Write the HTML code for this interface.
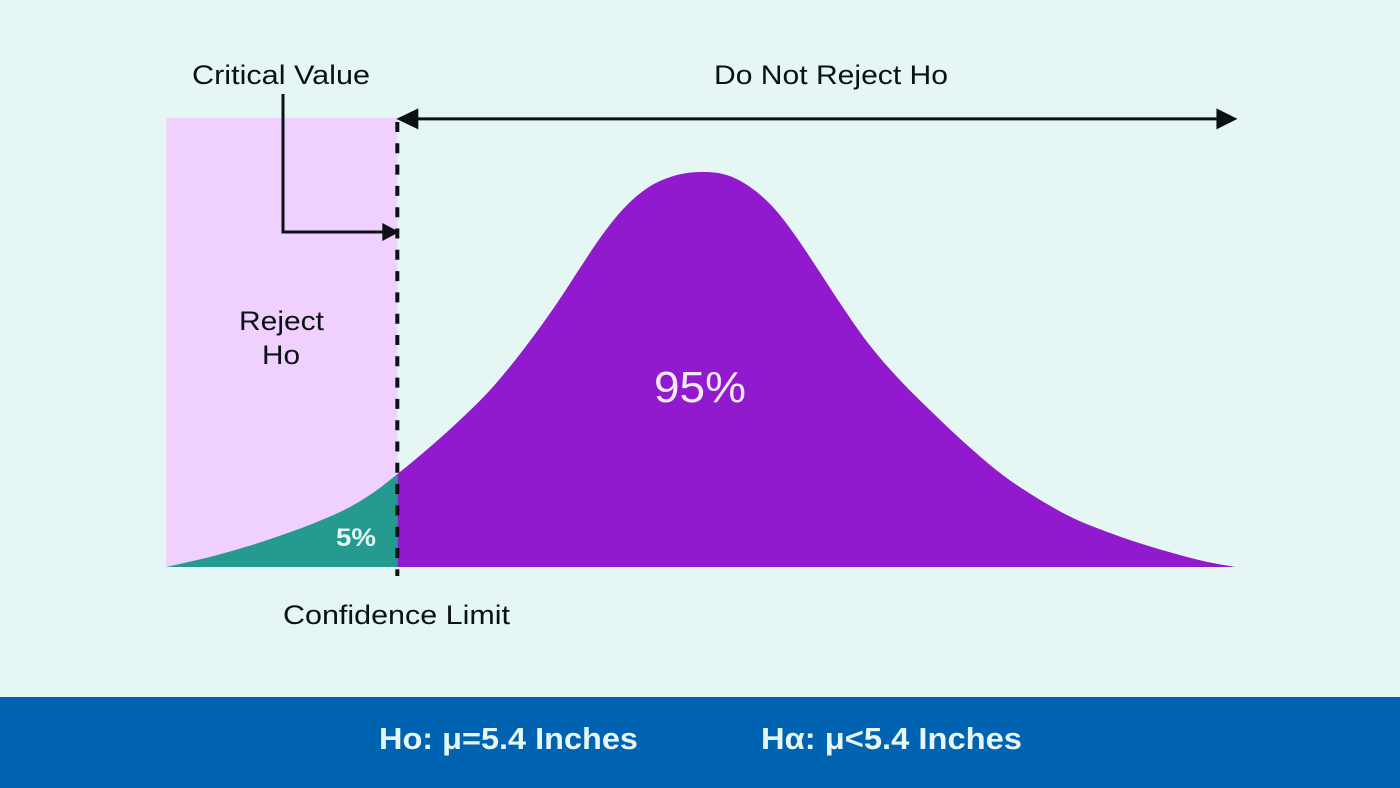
<!DOCTYPE html>
<html lang="en">
<head>
<meta charset="utf-8">
<title>One-tailed hypothesis test</title>
<style>
  html, body { margin: 0; padding: 0; width: 1400px; height: 788px; overflow: hidden; background: #E6F6F4; }
  svg { display: block; font-family: "Liberation Sans", "DejaVu Sans", sans-serif; }
  text { fill: #0c1214; }
</style>
</head>
<body>
<svg id="chart" width="1400" height="788" viewBox="0 0 1400 788">
  <rect x="0" y="0" width="1400" height="788" fill="#E6F6F4"></rect>
  <g id="marks"></g>

  <text x="192" y="84" font-size="27" textLength="178" lengthAdjust="spacingAndGlyphs">Critical Value</text>
  <text x="714" y="84" font-size="27" textLength="234" lengthAdjust="spacingAndGlyphs">Do Not Reject Ho</text>
  <text x="239" y="330" font-size="27" textLength="85" lengthAdjust="spacingAndGlyphs">Reject</text>
  <text x="262" y="364" font-size="27" textLength="38" lengthAdjust="spacingAndGlyphs">Ho</text>
  <text x="654" y="402" font-size="44" textLength="92" lengthAdjust="spacingAndGlyphs" style="fill:#F4EAFB">95%</text>
  <text x="336" y="546" font-size="25" font-weight="bold" textLength="40" lengthAdjust="spacingAndGlyphs" style="fill:#E6F6F4">5%</text>
  <text x="283" y="624" font-size="27" textLength="227" lengthAdjust="spacingAndGlyphs">Confidence Limit</text>

  <rect x="0" y="697" width="1400" height="91" fill="#0063B2"></rect>
  <text x="379" y="749" font-size="31" font-weight="bold" textLength="259" lengthAdjust="spacingAndGlyphs" style="fill:#E6F6F4">Ho: μ=5.4 Inches</text>
  <text x="761" y="749" font-size="31" font-weight="bold" textLength="261" lengthAdjust="spacingAndGlyphs" style="fill:#E6F6F4">Hα: μ&lt;5.4 Inches</text>
</svg>

<script>
// Standardised position along the axis and curve height (% of peak)
const zValues = [-2.90, -2.625, -2.446, -2.266, -2.082, -1.902, -1.755, -1.645, -1.505, -1.321, -1.141, -0.962, -0.777, -0.652, -0.543, -0.418, -0.288, -0.163, 0, 0.147, 0.272, 0.397, 0.527, 0.636, 0.761, 0.908, 1.087, 1.266, 1.451, 1.668, 1.848, 2.027, 2.212, 2.391, 2.571, 2.755, 2.91];
const densityValues = [0, 3.0, 5.4, 8.2, 11.4, 15.2, 19.5, 23.5, 28.9, 36.5, 44.8, 54.9, 66.8, 75.7, 83.3, 90.6, 95.9, 98.7, 100, 99.2, 96.2, 91.1, 83.3, 75.7, 66.8, 57.0, 47.3, 39.0, 30.9, 22.5, 17.0, 12.4, 8.9, 6.0, 3.5, 1.3, 0];
const criticalZ = -1.645;
const rejectTop = 113.7;
const curveStartZ = -2.90;
const curveEndZ = 2.91;

const X0 = 700, X_UNIT = 184;
const Y0 = 567, Y_UNIT = 3.95;
function xScale(z) { return X0 + z * X_UNIT; }
function yScale(d) { return Y0 - d * Y_UNIT; }

const NS = 'http://www.w3.org/2000/svg';
const marks = document.getElementById('marks');
function el(tag, attrs) {
  const e = document.createElementNS(NS, tag);
  for (const k in attrs) e.setAttribute(k, attrs[k]);
  return e;
}

// Cubic Hermite through the points, with tangents weighted for uneven spacing
function curvePath() {
  const pts = zValues.map((z, i) => [xScale(z), yScale(densityValues[i])]);
  const n = pts.length;
  const slopes = [];
  for (let i = 0; i < n - 1; i++) slopes.push((pts[i + 1][1] - pts[i][1]) / (pts[i + 1][0] - pts[i][0]));
  const m = [slopes[0]];
  for (let i = 1; i < n - 1; i++) {
    const h0 = pts[i][0] - pts[i - 1][0], h1 = pts[i + 1][0] - pts[i][0];
    m.push((slopes[i - 1] * h1 + slopes[i] * h0) / (h0 + h1));
  }
  m.push(slopes[n - 2]);
  let d = 'M' + pts[0][0] + ' ' + pts[0][1];
  for (let i = 0; i < n - 1; i++) {
    const h = (pts[i + 1][0] - pts[i][0]) / 3;
    d += ' C' + (pts[i][0] + h) + ' ' + (pts[i][1] + m[i] * h) + ' ' + (pts[i + 1][0] - h) + ' ' + (pts[i + 1][1] - m[i + 1] * h) + ' ' + pts[i + 1][0] + ' ' + pts[i + 1][1];
  }
  return d + ' L' + pts[n - 1][0] + ' ' + Y0 + ' L' + pts[0][0] + ' ' + Y0 + ' Z';
}

function polygon(points, name) {
  const p = el('polygon', { points: points.map(q => q.join(',')).join(' '), fill: '#0c1214' });
  
  
  marks.appendChild(p);
}
function line(x1, y1, x2, y2, w, name, dash) {
  const l = el('line', { x1: x1, y1: y1, x2: x2, y2: y2, stroke: '#0c1214', 'stroke-width': w });
  if (dash) l.setAttribute('stroke-dasharray', dash);
  
  
  marks.appendChild(l);
}

const critX = xScale(criticalZ);
const startX = xScale(curveStartZ);
const endX = xScale(curveEndZ);

// Rejection region
const reject = el('rect', { x: startX, y: yScale(rejectTop), width: critX - startX, height: Y0 - yScale(rejectTop), fill: '#EFD0FF' });


marks.appendChild(reject);

// Clips for the two tails of the curve
const defs = el('defs', {});
const clipLeft = el('clipPath', { id: 'clip-left' });
clipLeft.appendChild(el('rect', { x: 0, y: 0, width: critX, height: 788 }));
const clipRight = el('clipPath', { id: 'clip-right' });
clipRight.appendChild(el('rect', { x: critX, y: 0, width: 1400 - critX, height: 788 }));
defs.appendChild(clipLeft);
defs.appendChild(clipRight);
marks.appendChild(defs);

const d = curvePath();
const tail = el('path', { d: d, fill: '#259B8F', 'clip-path': 'url(#clip-left)' });


marks.appendChild(tail);

const body = el('path', { d: d, fill: '#911ACF', 'clip-path': 'url(#clip-right)' });


marks.appendChild(body);

// Critical value divider
line(critX, 122, critX, 576, 4, 'critical-value-divider', '10 11.3');

// Do-not-reject span arrow
const arrowY = yScale(rejectTop) + 1;
line(critX + 15, arrowY, endX - 15, arrowY, 3, 'do-not-reject-arrow-line');
polygon([[critX - 1, arrowY], [critX + 21, arrowY - 10.5], [critX + 21, arrowY + 10.5]], 'do-not-reject-arrow-left');
polygon([[endX + 2, arrowY], [endX - 19, arrowY - 10.5], [endX - 19, arrowY + 10.5]], 'do-not-reject-arrow-right');

// Critical value callout
line(283, 94, 283, 233.5, 3, 'critical-value-callout-stem');
line(281.5, 232, critX - 10, 232, 3, 'critical-value-callout-run');
polygon([[critX + 2, 232], [critX - 15, 223], [critX - 15, 241]], 'critical-value-callout-arrow');
</script>
</body>
</html>
